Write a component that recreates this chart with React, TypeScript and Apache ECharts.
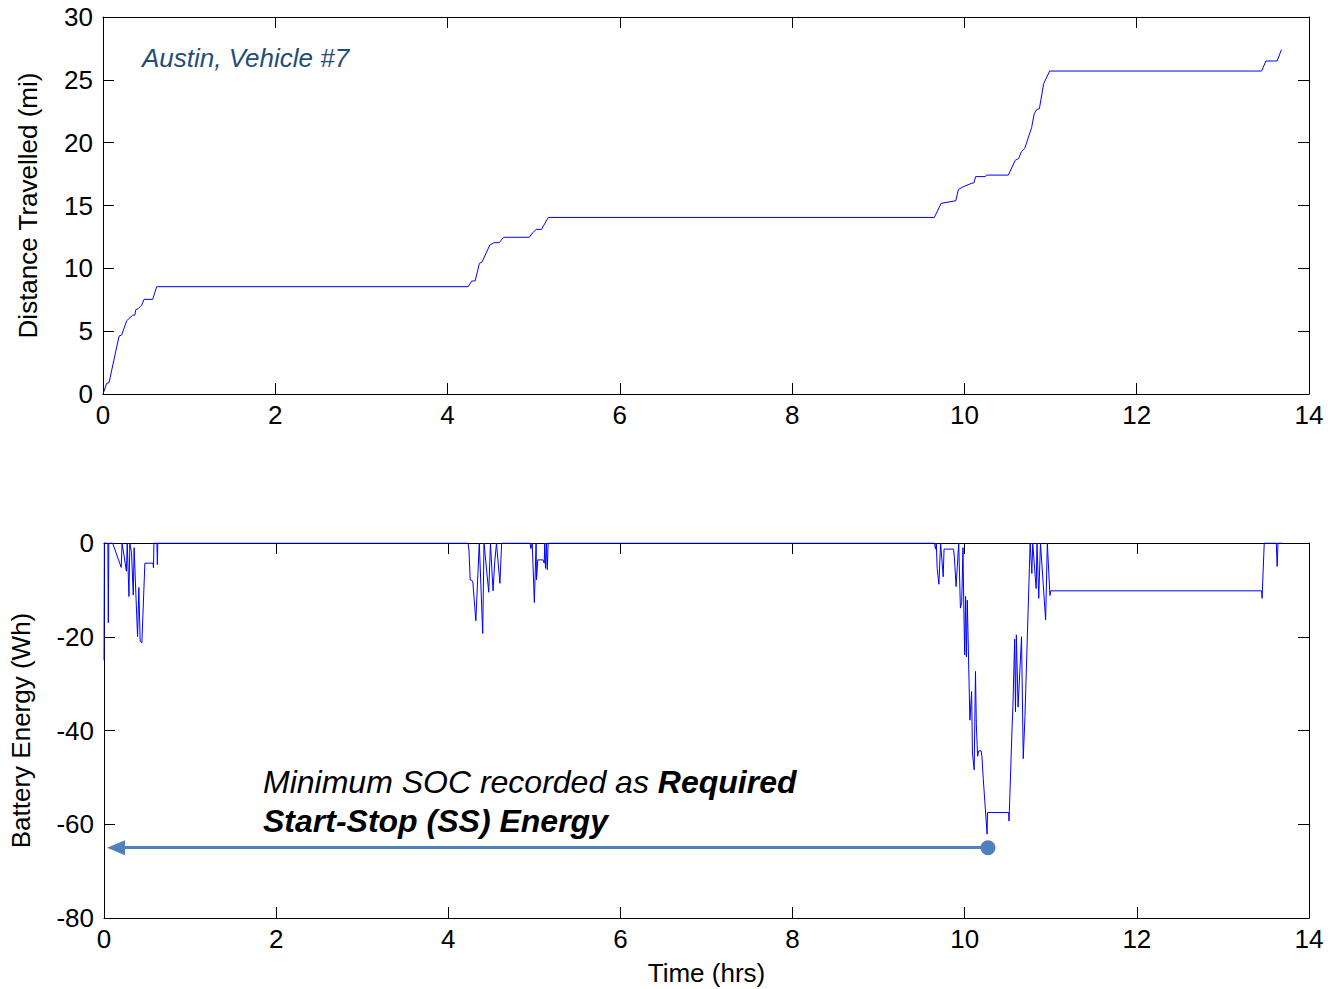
import React, { useEffect, useRef } from "react";
import * as echarts from "echarts";

const xTicks = [0, 14, 2];
const distTime = [0, 0.043, 0.07, 0.186, 0.217, 0.275, 0.345, 0.37, 0.38, 0.41, 0.45, 0.476, 0.577, 0.623, 4.24, 4.28, 4.32, 4.37, 4.4, 4.49, 4.54, 4.6, 4.65, 4.95, 4.98, 5.03, 5.09, 5.17, 9.65, 9.73, 9.9, 9.93, 9.99, 10.08, 10.11, 10.13, 10.24, 10.26, 10.51, 10.59, 10.63, 10.66, 10.7, 10.78, 10.81, 10.84, 10.87, 10.92, 10.99, 13.45, 13.5, 13.63, 13.68];
const distMiles = [0, 0.85, 0.9, 4.6, 4.7, 5.83, 6.28, 6.28, 6.7, 6.8, 7.08, 7.53, 7.53, 8.54, 8.54, 8.99, 9.0, 10.4, 10.5, 11.85, 12.04, 12.04, 12.47, 12.47, 12.78, 13.1, 13.1, 14.05, 14.05, 15.17, 15.38, 16.28, 16.5, 16.76, 16.8, 17.3, 17.3, 17.42, 17.42, 18.6, 18.74, 19.27, 19.54, 21.2, 22.3, 22.64, 22.7, 24.7, 25.7, 25.7, 26.5, 26.5, 27.4];

const energyTime = [0, 0.004, 0.045, 0.05, 0.056, 0.1, 0.2, 0.21, 0.26, 0.27, 0.29, 0.3, 0.32, 0.34, 0.35, 0.37, 0.39, 0.405, 0.42, 0.44, 0.475, 0.57, 0.575, 0.58, 0.615, 0.62, 0.625,
  4.23, 4.24, 4.255, 4.27, 4.285, 4.32, 4.36, 4.4, 4.415, 4.47, 4.49, 4.52, 4.54, 4.56, 4.6, 4.62, 4.95, 4.96, 4.975, 5.0, 5.02, 5.025, 5.04, 5.1, 5.115, 5.12, 5.13, 5.14, 5.15, 5.16,
  9.65, 9.66, 9.67, 9.68, 9.7, 9.72, 9.75, 9.76, 9.87, 9.88, 9.9, 9.93, 9.95, 9.965, 9.98, 9.99, 10.0, 10.01, 10.02, 10.03, 10.06, 10.08, 10.09, 10.11, 10.125, 10.135, 10.15, 10.16, 10.19, 10.2, 10.215, 10.26, 10.265, 10.51, 10.515, 10.55, 10.56, 10.58, 10.59, 10.6, 10.62, 10.66, 10.68, 10.7, 10.76, 10.78, 10.79, 10.83, 10.84, 10.86, 10.88, 10.94, 10.96, 10.99, 11.0,
  13.45, 13.455, 13.48, 13.62, 13.63, 13.64, 13.69];
const energyWh = [-25, 0, 0, -17, 0, 0, -5.2, 0, -6.0, 0, -11.4, 0, -2.1, -11.1, -1.0, -10.8, -20.0, -9.5, -21.0, -21.3, -4.3, -4.3, -5.3, 0, 0, -4.6, 0,
  0, -1.5, -7.9, -7.9, -8.3, -16.6, 0, -19.3, 0, -10.5, 0, -10.2, -4.0, 0, -8.6, 0, 0, -1.2, 0, -12.7, 0, -7.9, -3.6, -3.6, -4.3, 0, -5.4, 0, -5.7, 0,
  0, -1.3, 0, -5.4, -8.8, 0, -7.2, -1.3, -1.3, -3, -9.3, 0, -13.9, -12.7, -1, -14.3, -23.9, -11.4, -24.3, -12.2, -37.8, -31.7, -44.8, -48.4, -27.4, -38.8, -45.5, -44.4, -44.3, -45.5, -50.2, -62.1, -57.5, -57.5, -59.3, -39.5, -35, -20.5, -36, -19.6, -35, -20, -46, -37, 0, -6.5, 0, -9.7, 0, -11.8, 0, -16.4, 0, -11.2, -10.2,
  -10.2, -11.8, 0, 0, -5, 0, 0];

const distTicks = [0, 30, 5];
const energyTicks = [-80, 0, 20];
const minSoc = { t: 10.27, wh: -65, arrowEnd: 0.14 };

const FONT = "'Liberation Sans', Arial, sans-serif";

export default function App() {
  const ref = useRef<HTMLDivElement>(null);
  useEffect(() => {
    if (!ref.current) return;
    const chart = echarts.init(ref.current, null, { renderer: "svg" });
    const lbl = { color: "#000", fontSize: 26, fontFamily: FONT };
    const mkX = (gridIndex: number, pos: "bottom" | "top", show: boolean, name?: string) => ({
      type: "value",
      gridIndex,
      position: pos,
      min: xTicks[0],
      max: xTicks[1],
      interval: xTicks[2],
      axisLine: { show: true, onZero: false, lineStyle: { color: "#000", width: 1 } },
      axisTick: { show: true, inside: true, length: 11, lineStyle: { color: "#000" } },
      axisLabel: { show, margin: 8, ...lbl },
      splitLine: { show: false },
      name: name || "",
      nameLocation: "middle",
      nameGap: 42,
      nameTextStyle: lbl,
    });
    const mkY = (gridIndex: number, pos: "left" | "right", show: boolean, ticks: number[], name?: string, gap?: number) => ({
      type: "value",
      gridIndex,
      position: pos,
      min: ticks[0],
      max: ticks[1],
      interval: ticks[2],
      axisLine: { show: true, onZero: false, lineStyle: { color: "#000", width: 1 } },
      axisTick: { show: true, inside: true, length: 11, lineStyle: { color: "#000" } },
      axisLabel: { show, margin: 10, ...lbl },
      splitLine: { show: false },
      name: name || "",
      nameLocation: "middle",
      nameGap: gap || 60,
      nameRotate: 90,
      nameTextStyle: lbl,
    });
    chart.setOption({
      animation: false,
      backgroundColor: "#fff",
      grid: [
        { left: 103, right: 19, top: 17, height: 377 },
        { left: 103, right: 19, top: 543, height: 375 },
      ],
      xAxis: [
        mkX(0, "bottom", true),
        mkX(0, "top", false),
        mkX(1, "bottom", true, "Time (hrs)"),
        mkX(1, "top", false),
      ],
      yAxis: [
        mkY(0, "left", true, distTicks, "Distance Travelled (mi)", 62),
        mkY(0, "right", false, distTicks),
        mkY(1, "left", true, energyTicks, "Battery Energy (Wh)", 70),
        mkY(1, "right", false, energyTicks),
      ],
      series: [
        {
          type: "line",
          xAxisIndex: 0,
          yAxisIndex: 0,
          data: distTime.map((t, i) => [t, distMiles[i]]),
          showSymbol: false,
          lineStyle: { color: "#0000ff", width: 1 },
          silent: true,
        },
        {
          type: "line",
          xAxisIndex: 2,
          yAxisIndex: 2,
          data: energyTime.map((t, i) => [t, energyWh[i]]),
          showSymbol: false,
          lineStyle: { color: "#0000ff", width: 1 },
          silent: true,
          markLine: {
            silent: true,
            symbol: ["circle", "triangle"],
            symbolSize: [15, 18],
            symbolKeepAspect: true,
            label: { show: false },
            itemStyle: { color: "#4f81bd" },
            lineStyle: { color: "#4f81bd", width: 3, type: "solid" },
            data: [[{ coord: [minSoc.t, minSoc.wh] }, { coord: [minSoc.arrowEnd, minSoc.wh] }]],
          },
        },
      ],
      graphic: [
        {
          type: "text",
          x: 142,
          y: 58,
          style: {
            text: "Austin, Vehicle #7",
            font: `italic 26px ${FONT}`,
            fill: "#1f4e79",
            verticalAlign: "middle",
          },
        },
        {
          type: "text",
          x: 263,
          y: 762,
          style: {
            text: "{n|Minimum SOC recorded as }{b|Required}\n{b|Start-Stop (SS) Energy}",
            fill: "#000",
            rich: {
              n: { fontStyle: "italic", fontWeight: "normal", fontSize: 32, fontFamily: FONT, lineHeight: 39, fill: "#000" },
              b: { fontStyle: "italic", fontWeight: "bold", fontSize: 32, fontFamily: FONT, lineHeight: 39, fill: "#000" },
            },
          },
        },
      ],
    });
    return () => chart.dispose();
  }, []);
  return <div ref={ref} style={{ position: "absolute", left: 0, top: 0, width: 1328, height: 989 }} />;
}
